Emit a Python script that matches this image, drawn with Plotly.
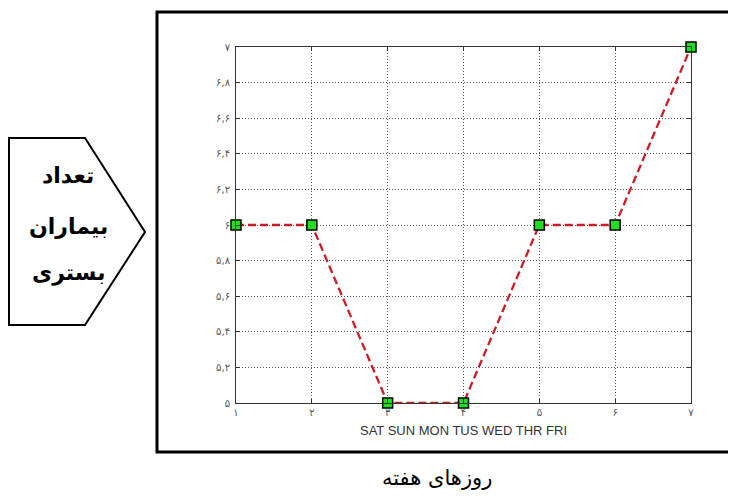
import plotly.graph_objects as go

days = [1, 2, 3, 4, 5, 6, 7]
patients = [6, 6, 5, 5, 6, 6, 7]
x_tick_vals = [1, 2, 3, 4, 5, 6, 7]
x_tick_text = ["۱", "۲", "۳", "۴", "۵", "۶", "۷"]
y_tick_vals = [5, 5.2, 5.4, 5.6, 5.8, 6, 6.2, 6.4, 6.6, 6.8, 7]
y_tick_text = ["۵", "۵,۲", "۵,۴", "۵,۶", "۵,۸", "۶", "۶,۲", "۶,۴", "۶,۶", "۶,۸", "۷"]
x_title = "SAT SUN MON TUS WED THR FRI"
y_title_lines = ["تعداد", "بیماران", "بستری"]
bottom_title = "روزهای هفته"

OFF = 8  # page body margin
W, H = 736 - OFF, 496 - OFF
L, R, T, B = 236 - OFF, 691 - OFF, 47 - OFF, 403 - OFF


def px(x):
    return (x - OFF - L) / (R - L)


def py(y):
    return (B - (y - OFF)) / (B - T)


fig = go.Figure()
fig.add_trace(go.Scatter(
    x=days, y=patients, mode="lines+markers",
    line=dict(color="#c81e28", width=2.3, dash="8px,4px"),
    marker=dict(symbol="square", size=10, color="#22dd22",
                line=dict(color="#000000", width=1.5)),
    cliponaxis=False, showlegend=False,
))

axis_common = dict(
    showline=True, linecolor="#333333", linewidth=1, mirror="ticks",
    ticks="inside", ticklen=4, tickcolor="#333333",
    showgrid=True, gridcolor="#555555", gridwidth=1, griddash="1px,2px",
    zeroline=False,
    tickfont=dict(family="DejaVu Sans", size=10, color="#555555"),
)

fig.update_xaxes(range=[1, 7], tickvals=x_tick_vals, ticktext=x_tick_text,
                 title=dict(text=x_title, standoff=8,
                            font=dict(family="Liberation Sans", size=13, color="#333333")),
                 **axis_common)
fig.update_yaxes(range=[5, 7], tickvals=y_tick_vals, ticktext=y_tick_text,
                 ticklabelstandoff=3, **axis_common)

shapes = [
    dict(type="path", xref="paper", yref="paper",
         path=f"M {px(745)} {py(12)} L {px(157)} {py(12)} L {px(157)} {py(452)} L {px(745)} {py(452)}",
         line=dict(color="#000000", width=3)),
    dict(type="path", xref="paper", yref="paper",
         path=(f"M {px(9)} {py(138)} L {px(85)} {py(138)} L {px(145)} {py(232)} "
               f"L {px(85)} {py(325)} L {px(9)} {py(325)} Z"),
         line=dict(color="#000000", width=2), fillcolor="rgba(0,0,0,0)"),
]

annotations = []
for text, yy in zip(y_title_lines, [175, 226, 273]):
    annotations.append(dict(text=f"<b>{text}</b>", xref="paper", yref="paper",
                            x=px(68), y=py(yy), xanchor="center", yanchor="middle",
                            showarrow=False,
                            font=dict(family="DejaVu Sans", size=22, color="#000000")))
annotations.append(dict(text=bottom_title, xref="paper", yref="paper",
                        x=px(437), y=py(478), xanchor="center", yanchor="middle",
                        showarrow=False,
                        font=dict(family="DejaVu Sans", size=21, color="#000000")))

fig.update_layout(
    width=W, height=H,
    margin=dict(l=L, r=W - R, t=T, b=H - B),
    paper_bgcolor="white", plot_bgcolor="white",
    shapes=shapes, annotations=annotations,
)

fig.write_html("out.html")
